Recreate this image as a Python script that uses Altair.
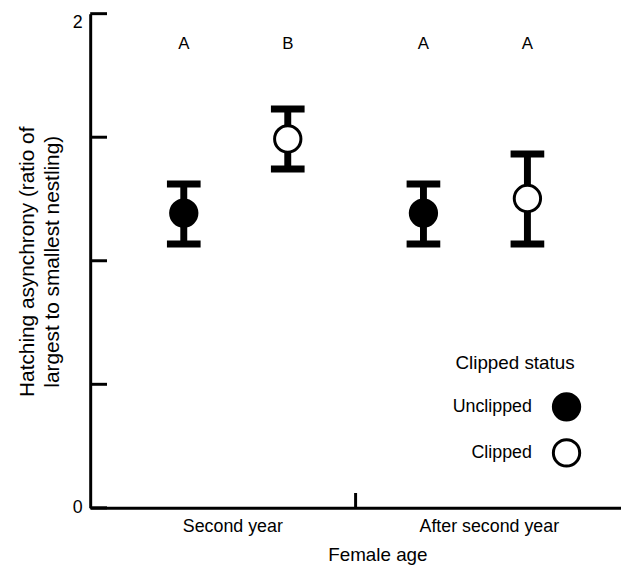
import altair as alt
import pandas as pd

# ---- data ----
ages = ["Second year", "Second year", "After second year", "After second year"]
status = ["Unclipped", "Clipped", "Unclipped", "Clipped"]
means = [1.193, 1.493, 1.193, 1.252]
lowers = [1.068, 1.371, 1.068, 1.068]
uppers = [1.311, 1.614, 1.311, 1.432]
letters = ["A", "B", "A", "A"]

age_order = ["Second year", "After second year"]
status_order = ["Unclipped", "Clipped"]
fill_colors = ["black", "white"]
legend_title = ["Clipped status"]
y_ticks = [0, 0.5, 1, 1.5, 2]
y_labels = [0, 1, 2]

df = pd.DataFrame({"age": ages, "status": status, "mean": means,
                   "lower": lowers, "upper": uppers, "letter": letters})
tick_df = pd.DataFrame({"v": y_ticks})
mid_df = pd.DataFrame({"age": [age_order[1]]})
ltitle_df = pd.DataFrame({"t": legend_title})

FONT = "Liberation Sans"

x_scale = alt.Scale(domain=age_order, paddingInner=0, paddingOuter=0.1074)
xo_scale = alt.Scale(domain=status_order, paddingInner=0, paddingOuter=0.1524)
y_scale = alt.Scale(domain=[0, 2], nice=False, zero=True)

x_axis = alt.Axis(title="Female age", labelAngle=0, ticks=False, tickSize=0,
                  domainColor="black", domainWidth=3, labelFontSize=18,
                  labelPadding=10, labelColor="black",
                  labelOffset={"condition": {"test": "datum.value == 'After second year'",
                                             "value": 14},
                               "value": -3},
                  titleFontSize=19, titleFontWeight="normal", titleColor="black",
                  titleX=290, titleAlign="center", titleY=53,
                  titleBaseline="alphabetic", grid=False)
y_axis = alt.Axis(title=["Hatching asynchrony (ratio of", "largest to smallest nestling)"],
                  values=y_labels, ticks=False, tickSize=0, domainColor="black",
                  domainWidth=3, labelFontSize=18, labelPadding=8, labelColor="black",
                  labelBaseline={"condition": {"test": "datum.value == 2", "value": "top"},
                                 "value": "middle"},
                  titleFontSize=21, titleFontWeight="normal", titleColor="black",
                  titleAngle=270, titleBaseline="alphabetic", titleAlign="center",
                  titleX=-57, titleY=250, titleLineHeight=25, grid=False, format="d")

X = alt.X("age:N", scale=x_scale, axis=x_axis)
XO = alt.XOffset("status:N", scale=xo_scale)

base = alt.Chart(df)

stems = base.mark_rule(strokeWidth=7, color="black").encode(
    x=X, xOffset=XO,
    y=alt.Y("lower:Q", scale=y_scale, axis=y_axis), y2="upper:Q")

cap_top = base.mark_tick(size=34, thickness=7, color="black", opacity=1).encode(
    x=X, xOffset=XO, y=alt.Y("upper:Q", scale=y_scale, axis=y_axis))
cap_bot = base.mark_tick(size=34, thickness=7, color="black", opacity=1).encode(
    x=X, xOffset=XO, y=alt.Y("lower:Q", scale=y_scale, axis=y_axis))

points = base.mark_point(shape="circle", size=707, filled=True, stroke="black",
                         strokeWidth=3, opacity=1, fillOpacity=1).encode(
    x=X, xOffset=XO,
    y=alt.Y("mean:Q", scale=y_scale, axis=y_axis),
    fill=alt.Fill("status:N", scale=alt.Scale(domain=status_order, range=fill_colors),
                  legend=alt.Legend(title=None, orient="none",
                                    legendX=466, legendY=382,
                                    symbolType="circle", symbolSize=707,
                                    symbolStrokeWidth=3, symbolStrokeColor="black",
                                    symbolOpacity=1,
                                    labelAlign="right", labelOffset={"expr": "-50"},
                                    labelFontSize=18, labelColor="black",
                                    rowPadding=6.5)))

texts = base.mark_text(fontSize=17, color="black", baseline="middle").encode(
    x=X, xOffset=XO, y=alt.value(31), text="letter:N")

ltitle = alt.Chart(ltitle_df).mark_text(fontSize=19, color="black", align="center",
                                        baseline="alphabetic").encode(
    x=alt.value(429), y=alt.value(359), text="t:N")

yticks = alt.Chart(tick_df).mark_rule(strokeWidth=3, color="black").encode(
    y=alt.Y("v:Q", scale=y_scale, axis=y_axis),
    x=alt.value(0), x2=alt.value(17))

midtick = alt.Chart(mid_df).mark_rule(strokeWidth=3, color="black").encode(
    x=alt.X("age:N", scale=x_scale, axis=x_axis, bandPosition=0),
    y=alt.value(484), y2=alt.value(499))

chart = alt.layer(stems, cap_top, cap_bot, points, texts, ltitle, yticks, midtick).properties(
    width=536, height=499,
    autosize=alt.AutoSizeParams(type="none"),
    padding={"left": 83, "top": 3, "right": 0, "bottom": 56},
).configure(font=FONT).configure_view(stroke=None)

chart.save("out.html", embed_options={"renderer": "svg", "actions": False})
